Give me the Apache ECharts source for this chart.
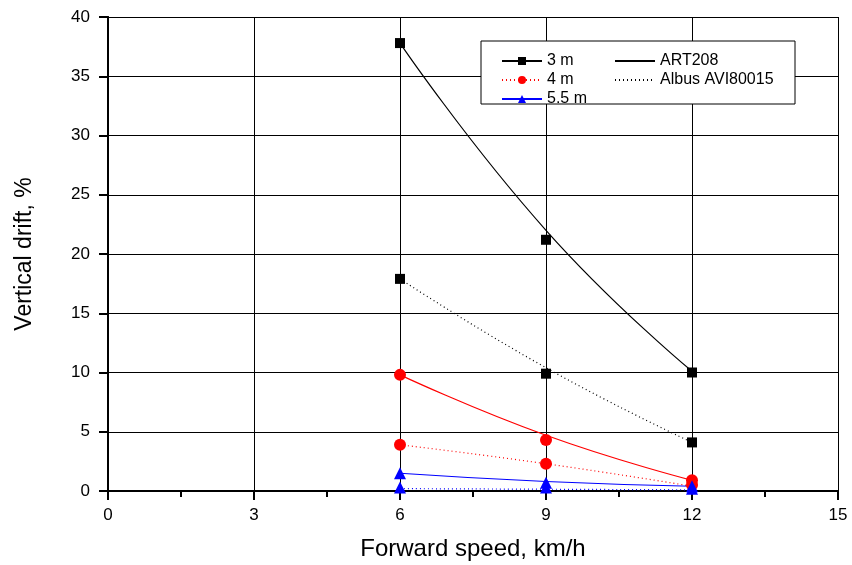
<!DOCTYPE html>
<html>
<head>
<meta charset="utf-8">
<script src="https://cdn.jsdelivr.net/npm/echarts@6/dist/echarts.min.js"></script>
<style>
  html, body { margin: 0; padding: 0; background: #fff; }
  #chart { width: 852px; height: 565px; }
</style>
</head>
<body>
<div id="chart"></div>
<script>
const speeds = [6, 9, 12]

// measured points (markers)
const art3m = [37.8, 21.2, 10.0]
const albus3m = [17.9, 9.9, 4.1]
const art4m = [9.8, 4.3, 0.9]
const albus4m = [3.9, 2.3, 0.5]
const art55m = [1.5, 0.7, 0.4]
const albus55m = [0.3, 0.3, 0.2]

// fitted curves
const artFit3m = [37.8, 22.0, 10.1]
const albusFit3m = [17.9, 10.4, 4.1]
const artFit4m = [9.8, 4.7, 0.9]
const albusFit4m = [3.9, 2.3, 0.4]
const artFit55m = [1.5, 0.8, 0.4]
const albusFit55m = [0.2, 0.15, 0.1]

const FONT = 'Liberation Sans'
const pairs = vals => speeds.map((s, i) => [s, vals[i]])

const chart = echarts.init(document.getElementById('chart'))

const curve = (vals, color, type) => ({
  type: 'line',
  data: pairs(vals),
  smooth: true,
  symbol: 'none',
  silent: true,
  lineStyle: { color, width: 1.2, type },
  z: 2
})

const marks = (vals, color, symbol, size) => ({
  type: 'scatter',
  data: pairs(vals),
  symbol,
  symbolSize: size,
  itemStyle: { color, opacity: 1 },
  z: 3
})

// series with no data, only there for the legend
const legendOnly = (name, color, type, symbol, size) => ({
  name,
  type: 'line',
  data: [],
  symbol,
  symbolSize: size,
  itemStyle: { color: symbol === 'none' ? 'rgba(0,0,0,0)' : color },
  lineStyle: { color, width: 1.2, type }
})

const axisLine = { lineStyle: { color: '#000', width: 2 } }

const option = {
  backgroundColor: '#fff',
  animation: false,
  grid: { left: 108, right: 14, top: 17, bottom: 74, outerBoundsMode: 'none' },
  xAxis: [{
    type: 'value',
    min: 0,
    max: 15,
    interval: 3,
    name: 'Forward speed, km/h',
    nameLocation: 'middle',
    nameGap: 46,
    nameTextStyle: { fontFamily: FONT, fontSize: 24, color: '#000' },
    axisLine,
    axisTick: { length: 9, lineStyle: { color: '#000', width: 2 } },
    minorTick: { show: true, splitNumber: 2, length: 6, lineStyle: { color: '#000', width: 2 } },
    axisLabel: { fontFamily: FONT, fontSize: 17, color: '#000', margin: 16 },
    splitLine: { show: true, lineStyle: { color: '#000', width: 1 } }
  }, {
    type: 'value',
    position: 'top',
    min: 0,
    max: 15,
    interval: 3,
    axisLine,
    axisTick: { show: false },
    axisLabel: { show: false },
    splitLine: { show: false }
  }],
  yAxis: [{
    type: 'value',
    min: 0,
    max: 40,
    interval: 5,
    name: 'Vertical drift, %',
    nameLocation: 'middle',
    nameGap: 72,
    nameTextStyle: { fontFamily: FONT, fontSize: 23, color: '#000' },
    axisLine,
    axisTick: { length: 9, lineStyle: { color: '#000', width: 2 } },
    axisLabel: { fontFamily: FONT, fontSize: 17, color: '#000', margin: 18 },
    splitLine: { show: true, lineStyle: { color: '#000', width: 1 } }
  }, {
    type: 'value',
    position: 'right',
    min: 0,
    max: 40,
    interval: 5,
    axisLine,
    axisTick: { show: false },
    axisLabel: { show: false },
    splitLine: { show: false }
  }],
  graphic: [{
    type: 'rect',
    shape: { x: 481, y: 41, width: 314, height: 63 },
    style: { fill: '#fff', stroke: '#000', lineWidth: 1 },
    z: 10
  }],
  legend: [{
    data: ['3 m', '4 m', '5.5 m'],
    orient: 'vertical',
    left: 496,
    top: 48,
    itemWidth: 40,
    itemHeight: 10,
    itemGap: 3,
    textStyle: { fontFamily: FONT, fontSize: 16, color: '#000' },
    z: 11
  }, {
    data: ['ART208', 'Albus AVI80015'],
    orient: 'vertical',
    left: 609,
    top: 48,
    itemWidth: 40,
    itemHeight: 10,
    itemGap: 3,
    textStyle: { fontFamily: FONT, fontSize: 16, color: '#000' },
    z: 11
  }],
  series: [
    curve(artFit3m, '#000', 'solid'),
    curve(albusFit3m, '#000', [1, 3]),
    curve(artFit4m, '#ff0000', 'solid'),
    curve(albusFit4m, '#ff0000', [1, 3]),
    curve(artFit55m, '#0000ff', 'solid'),
    curve(albusFit55m, '#0000ff', [1, 3]),
    marks(art3m, '#000', 'rect', 10),
    marks(albus3m, '#000', 'rect', 10),
    marks(art4m, '#ff0000', 'circle', 12),
    marks(albus4m, '#ff0000', 'circle', 12),
    marks(art55m, '#0000ff', 'triangle', 12),
    marks(albus55m, '#0000ff', 'triangle', 12),
    legendOnly('3 m', '#000', 'solid', 'rect', 8),
    legendOnly('4 m', '#ff0000', [1, 3], 'circle', 10),
    legendOnly('5.5 m', '#0000ff', 'solid', 'triangle', 10),
    legendOnly('ART208', '#000', 'solid', 'none', 0),
    legendOnly('Albus AVI80015', '#000', [1, 3], 'none', 0)
  ]
}

chart.setOption(option)
</script>
</body>
</html>
